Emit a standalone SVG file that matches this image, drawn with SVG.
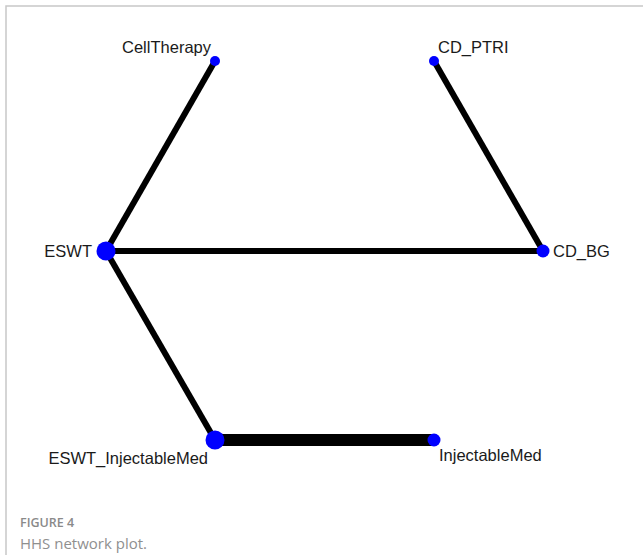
<svg xmlns="http://www.w3.org/2000/svg" width="643" height="555" viewBox="0 0 643 555">
<style>
.lbl{font-family:"Liberation Sans",Arial,sans-serif;font-size:16.5px;fill:#1a1a1a}
.edge{stroke:#000;stroke-linecap:butt}
.node{fill:#0000ff}
.cap1{font-family:"Open Sans","Noto Sans",sans-serif;font-size:12.5px;font-weight:600;fill:#8a8a8a}
.cap2{font-family:"Open Sans","Noto Sans",sans-serif;font-size:15px;fill:#8f8f8f}
</style>
<rect width="643" height="555" fill="#fff"/>
<path d="M6 555 V6 H643" fill="none" stroke="#c8c8c8" stroke-width="1.5"/>
<g id="connectors">
<line class="edge" x1="106" y1="251" x2="215" y2="61" stroke-width="6"/>
<line class="edge" x1="106" y1="251" x2="543" y2="251" stroke-width="6"/>
<line class="edge" x1="106" y1="251" x2="215" y2="440" stroke-width="6"/>
<line class="edge" x1="434" y1="61" x2="543" y2="251" stroke-width="6"/>
<line class="edge" x1="215" y1="440" x2="434" y2="440" stroke-width="12"/>
</g>
<g id="CellTherapy"><circle class="node" cx="215" cy="61" r="5"/><text class="lbl" x="211" y="53" text-anchor="end">CellTherapy</text></g>
<g id="CD_PTRI"><circle class="node" cx="434" cy="61" r="5"/><text class="lbl" x="438" y="53">CD_PTRI</text></g>
<g id="ESWT"><circle class="node" cx="106" cy="251" r="9.5"/><text class="lbl" x="92" y="257" text-anchor="end">ESWT</text></g>
<g id="CD_BG"><circle class="node" cx="543" cy="251" r="6.5"/><text class="lbl" x="553" y="257">CD_BG</text></g>
<g id="ESWT_InjectableMed"><circle class="node" cx="215" cy="440" r="9.5"/><text class="lbl" x="208" y="464" text-anchor="end">ESWT_InjectableMed</text></g>
<g id="InjectableMed"><circle class="node" cx="434" cy="440" r="6.5"/><text class="lbl" x="439" y="461">InjectableMed</text></g>
<text class="cap1" x="20" y="527">FIGURE 4</text>
<text class="cap2" x="20" y="549">HHS network plot.</text>
</svg>
